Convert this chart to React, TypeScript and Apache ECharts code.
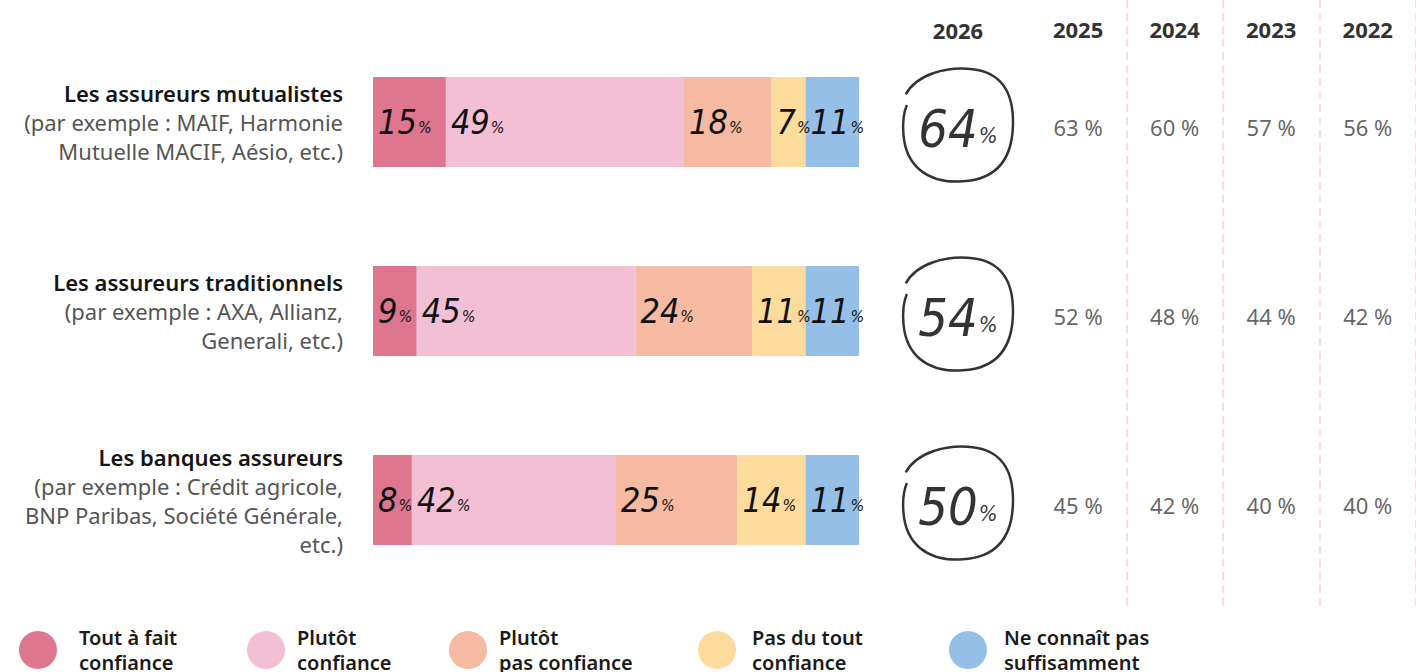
import React, { useEffect, useRef } from "react";
import * as echarts from "echarts";

// ---- data ----
const categories = [
  "Les assureurs mutualistes",
  "Les assureurs traditionnels",
  "Les banques assureurs",
];
const examples = [
  ["(par exemple : MAIF, Harmonie", "Mutuelle MACIF, Aésio, etc.)"],
  ["(par exemple : AXA, Allianz,", "Generali, etc.)"],
  ["(par exemple : Crédit agricole,", "BNP Paribas, Société Générale,", "etc.)"],
];
const seriesNames = [
  "Tout à fait confiance",
  "Plutôt confiance",
  "Plutôt pas confiance",
  "Pas du tout confiance",
  "Ne connaît pas suffisamment",
];
const legendLabels = [
  "Tout à fait\nconfiance",
  "Plutôt\nconfiance",
  "Plutôt\npas confiance",
  "Pas du tout\nconfiance",
  "Ne connaît pas\nsuffisamment",
];
const toutAFait = [15, 9, 8];
const plutot = [49, 45, 42];
const plutotPas = [18, 24, 25];
const pasDuTout = [7, 11, 14];
const neConnaitPas = [11, 11, 11];
const seriesValues = [toutAFait, plutot, plutotPas, pasDuTout, neConnaitPas];

const years = ["2026", "2025", "2024", "2023", "2022"];
const total2026 = [64, 54, 50];
const total2025 = [63, 52, 45];
const total2024 = [60, 48, 42];
const total2023 = [57, 44, 40];
const total2022 = [56, 42, 40];
const history = [total2025, total2024, total2023, total2022];

// ---- styles ----
const palette = ["#df7690", "#f2bfd5", "#f6baa2", "#fddb9c", "#95bfe7"];
const SANS = "'Noto Sans', 'Open Sans', sans-serif";
const HAND = "'DejaVu Sans Condensed', 'Liberation Sans Narrow', 'DejaVu Sans', sans-serif";
const legendLeft = [19, 247, 449, 698, 949];
const legendPad = [17, 7, 7, 11, 12];
const handCircle =
  "path://M4 24 C14 6 40 1 58 2 C82 3 97 16 98 44 C99 74 88 96 54 98 C22 100 4 84 2 58 C1 46 2 40 5 33";

const GRID_TOP = 27.5;
const GRID_H = 567;

export default function App() {
  const ref = useRef<HTMLDivElement>(null);

  useEffect(() => {
    if (!ref.current) return;
    const chart = echarts.init(ref.current, null, { renderer: "svg" });

    const barSeries = seriesNames.map((name, si) => ({
      name,
      type: "bar",
      stack: "total",
      xAxisIndex: 0,
      yAxisIndex: 0,
      barWidth: 90,
      itemStyle: { color: palette[si] },
      label: {
        show: true,
        position: "insideLeft",
        distance: 5,
        formatter: (p: any) => `{n|${p.value}}{p|%}`,
        rich: {
          n: { fontFamily: HAND, fontStyle: "italic", fontSize: 34, color: "#111", lineHeight: 44 },
          p: { fontFamily: HAND, fontStyle: "italic", fontSize: 16, color: "#111", padding: [10, 0, 0, 1], lineHeight: 44 },
        },
      },
      data: seriesValues[si],
    }));

    const circleData = total2026.map((v, i) => [years[0], categories[i], v]);
    const histData: any[] = [];
    history.forEach((arr, j) => arr.forEach((v, i) => histData.push([years[j + 1], categories[i], v])));

    const option: any = {
      animation: false,
      grid: [
        { left: 373, width: 486, top: GRID_TOP, height: GRID_H },
        { left: 1029.8, width: 393.4, top: 0, height: 607 },
        { left: 1029.8, width: 393.4, top: GRID_TOP, height: GRID_H },
        { left: 902, width: 112, top: GRID_TOP, height: GRID_H },
      ],
      xAxis: [
        { gridIndex: 0, type: "value", min: 0, max: 100, show: false },
        {
          gridIndex: 1,
          type: "category",
          position: "top",
          data: years.slice(1),
          axisLine: { show: false },
          axisTick: { show: false },
          axisLabel: {
            inside: true,
            margin: 29,
            verticalAlign: "middle",
            fontFamily: SANS,
            fontWeight: "bold",
            fontSize: 22,
            color: "#333",
          },
          splitLine: {
            show: true,
            interval: (index: number) => index !== 0,
            lineStyle: { color: "#f9dce6", width: 2, type: [8, 5] },
          },
        },
        { gridIndex: 2, type: "category", data: years.slice(1), show: false },
        {
          gridIndex: 3,
          type: "category",
          position: "top",
          data: [years[0]],
          axisLine: { show: false },
          axisTick: { show: false },
          axisLabel: {
            margin: -2,
            verticalAlign: "middle",
            fontFamily: SANS,
            fontWeight: "bold",
            fontSize: 22,
            color: "#333",
          },
        },
      ],
      yAxis: [
        {
          gridIndex: 0,
          type: "category",
          inverse: true,
          data: categories,
          axisLine: { show: false },
          axisTick: { show: false },
          axisLabel: {
            margin: 30,
            align: "right",
            formatter: (v: string, i: number) =>
              [`{t|${v}}`, ...examples[i].map((s) => `{s|${s}}`)].join("\n"),
            rich: {
              t: { fontFamily: SANS, fontWeight: 600, fontSize: 22, color: "#151515", lineHeight: 29, align: "right" },
              s: { fontFamily: SANS, fontSize: 22, color: "#555", lineHeight: 29, align: "right" },
            },
          },
        },
        { gridIndex: 1, type: "value", show: false },
        { gridIndex: 2, type: "category", inverse: true, data: categories, show: false },
        { gridIndex: 3, type: "category", inverse: true, data: categories, show: false },
      ],
      legend: seriesNames.map((name, i) => ({
        data: [name],
        left: legendLeft[i],
        top: 625,
        padding: 0,
        icon: "circle",
        itemWidth: 38,
        itemHeight: 40,
        selectedMode: false,
        formatter: () => legendLabels[i],
        textStyle: {
          fontFamily: SANS,
          fontSize: 20,
          fontWeight: 600,
          color: "#1a1a1a",
          lineHeight: 25,
          padding: [0, 0, 0, legendPad[i]],
        },
      })),
      series: [
        ...barSeries,
        {
          name: "2026",
          type: "scatter",
          xAxisIndex: 3,
          yAxisIndex: 3,
          symbol: handCircle,
          symbolSize: [110, 113],
          symbolOffset: [0, 3],
          itemStyle: { color: "rgba(0,0,0,0)", borderColor: "#000", borderWidth: 2.5 },
          label: {
            show: true,
            position: "inside",
            offset: [0, 4],
            formatter: (p: any) => `{n|${p.value[2]}}{p|%}`,
            rich: {
              n: { fontFamily: HAND, fontStyle: "italic", fontSize: 52, color: "#000", lineHeight: 60 },
              p: { fontFamily: HAND, fontStyle: "italic", fontSize: 22, color: "#000", padding: [12, 0, 0, 1], lineHeight: 60 },
            },
          },
          data: circleData,
        },
        {
          name: "historique",
          type: "scatter",
          xAxisIndex: 2,
          yAxisIndex: 2,
          symbolSize: 0,
          label: {
            show: true,
            position: "inside",
            offset: [0, 5],
            formatter: (p: any) => `${p.value[2]} %`,
            fontFamily: SANS,
            fontSize: 22,
            color: "#3c3c3c",
          },
          data: histData,
        },
      ],
    };

    chart.setOption(option);
    return () => chart.dispose();
  }, []);

  return (
    <div
      ref={ref}
      style={{ position: "absolute", left: 0, top: 0, width: 1416, height: 672, background: "#fff" }}
    />
  );
}
